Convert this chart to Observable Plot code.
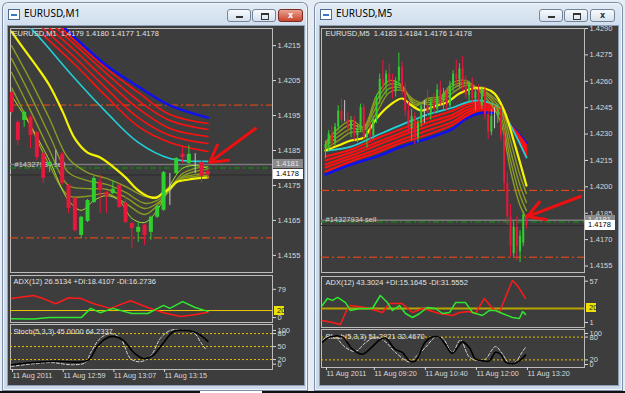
<!DOCTYPE html>
<html><head><meta charset="utf-8">
<script src="https://cdn.jsdelivr.net/npm/d3@7"></script>
<script src="https://cdn.jsdelivr.net/npm/@observablehq/plot@0.6"></script>
<style>
html,body{margin:0;padding:0;}
body{width:625px;height:393px;position:relative;overflow:hidden;background:#e6ecf3;font-family:"Liberation Sans",Arial,sans-serif;}
.win{position:absolute;top:2px;height:389px;border-radius:6px 6px 0 0;background:linear-gradient(#e3ecf6 0px,#d2dfee 22px,#cbd9ea 100%);box-shadow:inset 0 0 0 1px #7d8fa6,inset 0 0 0 2px #f1f6fb;}
.client{position:absolute;left:6px;top:24px;height:359px;background:#3d3d3d;box-shadow:0 0 0 1px #8d9fb5;}
.title{position:absolute;left:22px;top:4px;font:10px "Noto Sans",sans-serif;color:#000;}
.icon{position:absolute;left:6px;top:7px;width:10px;height:9px;border:1px solid #4f6c93;background:#fff;}
.icon:after{content:"";position:absolute;left:2px;top:4px;width:6px;height:2px;background:#3a78c8;}
.btn{position:absolute;top:7px;height:13px;border-radius:3px;border:1px solid #73849a;background:linear-gradient(#f7fafd,#d6e1ee);box-sizing:border-box;text-align:center;font:bold 8px "DejaVu Sans",sans-serif;line-height:11px;color:#333;}
.btn.close.active{background:linear-gradient(#e9a393,#c8452d);border-color:#7a2a1e;color:#fff;}
.minbar{position:absolute;left:8px;top:6px;width:7px;height:2px;background:#333;}
.restbox{position:absolute;left:8px;top:3px;width:6px;height:4px;border:1px solid #333;border-top-width:2px;}
.pbox{position:absolute;font:7.5px "Liberation Sans",Arial,sans-serif;padding-left:3px;box-sizing:border-box;white-space:nowrap;}
svg{overflow:visible;}
</style>
</head><body>
<div class="win" style="left:2px;width:306px">
  <div class="icon"></div><div class="title">EURUSD,M1</div>
  <div class="btn" style="left:225px;width:24px"><div class="minbar"></div></div>
  <div class="btn" style="left:250px;width:24px"><div class="restbox"></div></div>
  <div class="btn close active" style="left:276px;width:25px">x</div>
  <div class="client" style="width:296px"></div>
</div>
<div class="win" style="left:314px;width:309px">
  <div class="icon"></div><div class="title">EURUSD,M5</div>
  <div class="btn" style="left:225px;width:24px"><div class="minbar"></div></div>
  <div class="btn" style="left:250px;width:24px"><div class="restbox"></div></div>
  <div class="btn close" style="left:276px;width:25px">x</div>
  <div class="client" style="width:298px"></div>
</div>
<div style="position:absolute;left:0;top:391px;width:625px;height:2px;background:#111"></div>
<div style="position:absolute;left:200px;top:391px;width:62px;height:2px;background:#fff"></div>
<script>
// ---------------- DATA ----------------
const m1Header = "EURUSD,M1  1.4179 1.4180 1.4177 1.4178";
const m5Header = "EURUSD,M5  1.4183 1.4184 1.4176 1.4178";
const m1AdxText = "ADX(12) 26.5134 +DI:18.4107 -DI:16.2736";
const m5AdxText = "ADX(12) 43.3024 +DI:15.1645 -DI:31.5552";
const m1StochText = "Stoch(5,3,3) 45.0000 64.2337";
const m5StochText = "Stoch(5,3,3) 51.2821 32.4670";
const orderText = "#14327934 sell";

// candles [open, high, low, close]
const m1Candles = [
 [1.42016,1.42030,1.41950,1.41959],[1.41930,1.41936,1.41864,1.41879],[1.41936,1.41962,1.41916,1.41959],
 [1.41944,1.41950,1.41856,1.41893],[1.41901,1.41905,1.41820,1.41830],[1.41841,1.41845,1.41756,1.41770],
 [1.41807,1.41820,1.41787,1.41816],[1.41813,1.41850,1.41807,1.41813],[1.41839,1.41845,1.41750,1.41756],
 [1.41750,1.41753,1.41670,1.41684],[1.41713,1.41716,1.41616,1.41621],[1.41607,1.41662,1.41599,1.41659],
 [1.41647,1.41710,1.41644,1.41707],[1.41701,1.41776,1.41699,1.41770],[1.41759,1.41779,1.41670,1.41736],
 [1.41730,1.41733,1.41670,1.41719],[1.41727,1.41764,1.41724,1.41739],[1.41750,1.41753,1.41684,1.41687],
 [1.41699,1.41721,1.41641,1.41644],[1.41641,1.41644,1.41570,1.41627],[1.41616,1.41644,1.41587,1.41630],
 [1.41636,1.41639,1.41579,1.41607],[1.41616,1.41662,1.41593,1.41659],[1.41659,1.41693,1.41656,1.41690],
 [1.41679,1.41790,1.41676,1.41787],[1.41779,1.41784,1.41693,1.41779],[1.41784,1.41830,1.41781,1.41827],
 [1.41839,1.41864,1.41813,1.41830],[1.41813,1.41864,1.41810,1.41839],[1.41830,1.41841,1.41784,1.41830],
 [1.41816,1.41822,1.41756,1.41776],[1.4179,1.4180,1.4177,1.4178]
];
const m5Candles = [
 [1.4222,1.4226,1.4216,1.4224],[1.4224,1.4232,1.4220,1.4230],[1.4230,1.4234,1.4222,1.4225],[1.4225,1.4236,1.4223,1.4234],
 [1.4234,1.4246,1.4232,1.4243],[1.4243,1.4250,1.4236,1.4238],[1.4238,1.4249,1.4237,1.4238],[1.4238,1.4242,1.4230,1.4233],
 [1.4233,1.4240,1.4228,1.4237],[1.4237,1.4240,1.4226,1.4229],[1.4229,1.4235,1.4225,1.4233],[1.4233,1.4247,1.4231,1.4245],
 [1.4245,1.4247,1.4226,1.4228],[1.4228,1.4234,1.4222,1.4231],[1.4231,1.4236,1.4226,1.4229],[1.4229,1.4240,1.4227,1.4238],
 [1.4238,1.4252,1.4236,1.4250],[1.4250,1.4264,1.4247,1.4261],[1.4261,1.4272,1.4255,1.4258],[1.4258,1.4266,1.4252,1.4264],
 [1.4264,1.4270,1.4256,1.4259],[1.4259,1.4264,1.4250,1.4254],[1.4254,1.4262,1.4251,1.4260],[1.4260,1.4276,1.4257,1.4268],
 [1.4268,1.4271,1.4252,1.4255],[1.4255,1.4259,1.4240,1.4243],[1.4243,1.4248,1.4230,1.4233],[1.4233,1.4244,1.4226,1.4240],
 [1.4240,1.4242,1.4224,1.4228],[1.4228,1.4238,1.4225,1.4236],[1.4236,1.4248,1.4234,1.4246],[1.4246,1.4249,1.4236,1.4246],
 [1.4246,1.4255,1.4240,1.4242],[1.4242,1.4250,1.4238,1.4248],[1.4248,1.4253,1.4241,1.4244],[1.4244,1.4258,1.4242,1.4255],
 [1.4255,1.4260,1.4246,1.4249],[1.4249,1.4256,1.4244,1.4253],[1.4253,1.4255,1.4243,1.4246],[1.4246,1.4260,1.4245,1.4257],
 [1.4257,1.4266,1.4254,1.4264],[1.4264,1.4272,1.4258,1.4261],[1.4261,1.4270,1.4256,1.4267],[1.4267,1.4274,1.4254,1.4257],
 [1.4257,1.4263,1.4250,1.4252],[1.4252,1.4260,1.4248,1.4258],[1.4258,1.4262,1.4247,1.4250],[1.4250,1.4256,1.4243,1.4254],
 [1.4254,1.4258,1.4244,1.4246],[1.4246,1.4257,1.4244,1.4255],[1.4255,1.4257,1.4238,1.4241],[1.4241,1.4246,1.4227,1.4231],
 [1.4231,1.4244,1.4229,1.4240],[1.4240,1.4245,1.4233,1.4240],[1.4240,1.4247,1.4236,1.4244],[1.4244,1.4246,1.4226,1.4229],
 [1.4229,1.4232,1.4198,1.4202],[1.4202,1.4208,1.4178,1.4183],[1.4183,1.4190,1.4160,1.4166],[1.4162,1.4180,1.4160,1.4177],
 [1.4177,1.4183,1.4158,1.4166],[1.4163,1.4175,1.4157,1.4172],[1.4168,1.4186,1.4166,1.4184],[1.4183,1.4184,1.4176,1.4178]
];

// axis ticks
const m1PriceTicks = [1.4155,1.4165,1.4175,1.4185,1.4195,1.4205,1.4215];
const m5PriceTicks = [1.4155,1.4170,1.4185,1.4200,1.4215,1.4230,1.4245,1.4260,1.4275,1.4290];
const m1TimeTicks = [0,8,16,24];
const m1TimeLabels = ["11 Aug 2011","11 Aug 12:59","11 Aug 13:07","11 Aug 13:15"];
const m5TimeTicks = [0,15,31,47,63];
const m5TimeLabels = ["11 Aug 2011","11 Aug 09:20","11 Aug 10:40","11 Aug 12:00","11 Aug 13:20"];
const m1AdxTop = [79], m1AdxBottom = [0];
const m5AdxTop = [57], m5AdxBottom = [1];
const m1StochMid = [20,50,80], m5StochMid = [20,80];
const stochTop = [100], stochBottom = [0];
const adxLevel = 20;

// order levels
const stopLevels = [1.4198, 1.4160];
const orderLevel = 1.4181;
const entryLevel = 1.4180;
const bidLevel = 1.4178;

// M1 moving averages
const m1BlueIdx = [8,10,15,20,25,31];
const m1Blue = [1.42207,1.42173,1.42093,1.42033,1.41979,1.41944];
const m1RedIdx = [5,10,15,20,25,31];
const m1Red1 = [1.42181,1.42096,1.42004,1.41919,1.41873,1.41847];
const m1Red2 = [1.42199,1.42116,1.42027,1.41944,1.41893,1.41870];
const m1Red3 = [1.42216,1.42136,1.42050,1.41970,1.41913,1.41890];
const m1Red4 = [1.42233,1.42153,1.42070,1.41993,1.41936,1.41910];
const m1Red5 = [1.42250,1.42164,1.42084,1.42016,1.41953,1.41927];
const m1CyanIdx = [2,5,10,15,20,25,31];
const m1Cyan = [1.42221,1.42161,1.42056,1.41959,1.41873,1.41827,1.41819];
const m1YellowIdx = [0,2,4,6,8,10,12,14,16,18,20,22,23,24,25,26,28,31];
const m1Yellow = [1.42190,1.42139,1.42090,1.42036,1.41964,1.41884,1.41844,1.41830,1.41804,1.41773,1.41736,1.41716,1.41716,1.41730,1.41741,1.41759,1.41767,1.41773];
const m1OliveIdx = [0,3,6,9,12,15,18,21,23,25,27,29,31];
const m1Olive1 = [1.42150,1.42050,1.41941,1.41827,1.41787,1.41770,1.41747,1.41719,1.41719,1.41747,1.41770,1.41776,1.41779];
const m1Olive2 = [1.42113,1.42007,1.41893,1.41787,1.41764,1.41753,1.41730,1.41699,1.41707,1.41741,1.41773,1.41781,1.41787];
const m1Olive3 = [1.42073,1.41964,1.41850,1.41750,1.41741,1.41739,1.41716,1.41684,1.41699,1.41736,1.41776,1.41790,1.41796];
const m1Olive4 = [1.42030,1.41921,1.41807,1.41721,1.41719,1.41727,1.41699,1.41667,1.41693,1.41741,1.41784,1.41799,1.41804];
const m1LimeIdx = [0,3,6,9,11,13,15,17,19,21,23,25,27,29,31];
const m1Lime = [1.42007,1.41921,1.41821,1.41707,1.41679,1.41707,1.41721,1.41707,1.41656,1.41644,1.41679,1.41750,1.41799,1.41807,1.41799];

// M5 moving averages
const m5SlowIdx = [0,8,16,24,32,40,44,48,52,55,57,60,63];
const m5Blue = [1.42070,1.42127,1.42172,1.42229,1.42275,1.42331,1.42388,1.42417,1.42422,1.42411,1.42366,1.42314,1.42246];
const m5Cyan = [1.42205,1.42229,1.42292,1.42354,1.42411,1.42451,1.42479,1.42491,1.42474,1.42445,1.42383,1.42280,1.42167];
const m5Red1 = [1.42172,1.42212,1.42275,1.42331,1.42388,1.42434,1.42468,1.42479,1.42468,1.42440,1.42377,1.42286,1.42178];
const m5Red2 = [1.42150,1.42195,1.42252,1.42309,1.42366,1.42411,1.42451,1.42468,1.42457,1.42434,1.42377,1.42292,1.42189];
const m5Red3 = [1.42127,1.42178,1.42235,1.42292,1.42343,1.42394,1.42434,1.42457,1.42451,1.42428,1.42371,1.42297,1.42206];
const m5Red4 = [1.42110,1.42161,1.42212,1.42269,1.42320,1.42371,1.42417,1.42445,1.42440,1.42422,1.42371,1.42303,1.42218];
const m5Red5 = [1.42087,1.42144,1.42195,1.42252,1.42297,1.42354,1.42400,1.42434,1.42434,1.42417,1.42366,1.42309,1.42235];
const m5YellowIdx = [0,4,8,12,14,16,20,24,27,30,34,38,42,46,50,53,56,59,63];
const m5Yellow = [1.42206,1.42235,1.42263,1.42280,1.42331,1.42388,1.42462,1.42502,1.42462,1.42434,1.42457,1.42479,1.42530,1.42559,1.42559,1.42530,1.42434,1.42263,1.42007];
const m5OliveIdx = [0,4,8,12,16,20,24,28,32,36,40,44,48,52,55,58,61,63];
const m5Olive1 = [1.42218,1.42263,1.42309,1.42320,1.42422,1.42536,1.42548,1.42491,1.42468,1.42479,1.42536,1.42576,1.42559,1.42519,1.42462,1.42263,1.42064,1.41962];
const m5Olive2 = [1.42229,1.42286,1.42331,1.42331,1.42457,1.42559,1.42559,1.42479,1.42479,1.42491,1.42559,1.42587,1.42559,1.42508,1.42434,1.42206,1.42007,1.41911];
const m5Olive3 = [1.42241,1.42309,1.42354,1.42337,1.42491,1.42582,1.42570,1.42468,1.42491,1.42502,1.42576,1.42593,1.42553,1.42491,1.42400,1.42150,1.41951,1.41865];
const m5Olive4 = [1.42252,1.42331,1.42377,1.42343,1.42519,1.42604,1.42576,1.42457,1.42502,1.42513,1.42593,1.42604,1.42548,1.42468,1.42366,1.42093,1.41894,1.41820];

// ADX [barIndex, value]
const m1MinusDI = [[0,48],[1.4,51],[3.5,55],[5,48],[7,36],[9,50],[11,48],[13,36],[15.6,25],[18.8,43],[21.5,27],[24,15],[26.7,6],[28.8,10],[31,16]];
const m1PlusDI = [[0,1],[3.5,0],[6,3.5],[11,3.5],[12.5,25],[14,15],[16,25],[19,13],[21.5,13],[24,32],[25,25],[27,41],[29,27],[31,18]];
const m5MinusDI = [[-1,3.7],[2.2,1],[4.7,-1.7],[6.3,14.6],[7.8,24],[12.5,21.4],[17.9,14.6],[20,26.8],[24,26.8],[27.3,14.6],[30.4,20],[35.7,13.2],[39.8,10.5],[42,14.6],[45,16],[47,13.2],[49.8,33.6],[52.4,20],[54.5,14.6],[56.4,35],[58.6,58],[60.2,51],[62.7,33.6]];
const m5PlusDI = [[-1,24],[0.6,33.6],[2.2,31],[3.8,35],[6.3,28],[7.8,17.3],[10.7,20],[14.7,20],[17.2,37.6],[19.4,28],[21,17.3],[23.2,24],[25.1,13.2],[27.3,7.8],[29.5,13.2],[32,21.4],[34.5,20],[36.7,13.2],[38.9,14.6],[40.8,28],[43.9,28],[46.1,14.6],[49.2,10.5],[51.4,17.3],[53.3,17.3],[55.5,13.2],[58.6,7.8],[60.8,6.4],[61.8,16],[62.7,12]];
// Stochastic [barIndex, value]
const m1StochMain = [[0,8],[3.5,13],[7,16],[12,18],[13.6,52],[15.2,71],[16.4,73],[17.7,64],[19.3,36],[20.9,22],[22.3,29],[24,59],[25.6,85],[27.8,87],[29.4,80],[31,62]];
const m1StochSignal = [[0,4],[6,13],[9.6,8],[11.7,13],[12.5,36],[14,69],[15.6,80],[17.2,69],[18.8,22],[20.4,15],[22,29],[23.5,69],[25,87],[26.7,89],[28.8,82],[29.9,59],[30.6,45]];
const m5StochMain = [[-0.9,67.5],[1.3,80],[5.3,80],[8.5,47.5],[11.6,35],[14.7,55],[16.9,72.5],[18.8,77.5],[21.9,47.5],[24.1,40],[26.3,17.5],[28.2,17.5],[31.3,67.5],[33.5,80],[35.7,80],[37.6,60],[39.8,37.5],[42.9,67.5],[45.1,52.5],[47,22.5],[49.2,17.5],[51.4,17.5],[53.3,40],[54.9,35],[56.4,15],[58.6,10],[60.8,17.5],[62.7,32.5]];
const m5StochSignal = [[-0.9,72.5],[2.2,85],[6.3,52.5],[9.4,42.5],[12.5,65],[15.7,80],[18.8,67.5],[21.9,40],[26.3,15],[28.2,27.5],[31.3,52.5],[34.5,80],[36.7,77.5],[39.8,40],[42.3,72.5],[45.1,27.5],[48.3,17.5],[50.2,22.5],[53.3,55],[55.5,35],[57.7,10],[59.6,15],[61.8,42.5],[62.7,52.5]];

// annotation arrows [x1, y1, x2, y2]
const m1Arrow = [[38.5,1.41913,31.3,1.41816]];
const m5Arrow = [[79.9,1.41945,63.3,1.41831]];

// ---------------- DRAWING ----------------
const GREEN="#2fcf2f", RED="#e8173c", DOJI="#c8c8c8", TXT="#e2e2e2", FRAME="#bcbcbc";
const FONT = '"Liberation Sans", Arial, sans-serif';

function pane({x0,y0,w,h,xDomain,yDomain,marks,mb=0,xAxis=false}) {
  const chart = Plot.plot({
    width: w + 34, height: h + mb,
    marginLeft: 0, marginTop: 0, marginRight: 34, marginBottom: mb,
    x: xAxis ? {domain: xDomain} : {domain: xDomain, axis: null},
    y: {domain: yDomain},
    style: {background: "transparent", color: "#d8d8d8", fontSize: "7.5px", fontFamily: FONT, overflow: "visible"},
    marks
  });
  chart.style.position = "absolute";
  chart.style.left = x0 + "px";
  chart.style.top = y0 + "px";
  chart.style.maxWidth = "none";
  document.body.appendChild(chart);
  return chart;
}
const pts = (idx, vals) => d3.zip(idx, vals);
const maLine = (idx, vals, stroke, w) => Plot.line(pts(idx, vals), {x: d=>d[0], y: d=>d[1], stroke, strokeWidth: w, curve: "catmull-rom", clip: true});
const candleColor = d => d[3] > d[0] ? GREEN : d[3] < d[0] ? RED : DOJI;
function candles(data, bodyW) {
  return [
    Plot.ruleX(data, {x: (d,i)=>i, y1: d=>d[2], y2: d=>d[1], stroke: candleColor, strokeWidth: 1, clip: true}),
    Plot.ruleX(data, {x: (d,i)=>i, y1: d=>d[0], y2: d=>d[3], stroke: candleColor, strokeWidth: bodyW, clip: true})
  ];
}
function levels() {
  return [
    Plot.ruleY(stopLevels, {stroke: "#ff4a0a", strokeWidth: 1, strokeDasharray: "8,3,2,3"}),
    Plot.ruleY([orderLevel], {stroke: "#7a7a7a", strokeWidth: 1.5}),
    Plot.ruleY([entryLevel], {stroke: "#0f9a0f", strokeWidth: 1, strokeDasharray: "6,3,2,3"}),
    Plot.ruleY([bidLevel], {stroke: "#2c2c2c", strokeWidth: 1})
  ];
}
// HTML label box positioned through the chart's own y scale
function box(chart, top, left, width, value, text, bg, fg, h) {
  const y = top + chart.scale("y").apply(value);
  const d = document.createElement("div");
  d.className = "pbox";
  d.textContent = text;
  Object.assign(d.style, {left: left+"px", top: (y - h/2)+"px", width: width+"px", height: h+"px", lineHeight: h+"px", background: bg, color: fg});
  document.body.appendChild(d);
}
const axisR = (ticks, dy=0, fmt) => Plot.axisY({anchor: "right", ticks, tickSize: 3, tickPadding: 2, fontSize: 7.5, dy, ...(fmt ? {tickFormat: fmt} : {})});
const arrowMark = data => Plot.arrow(data, {x1: d=>d[0], y1: d=>d[1], x2: d=>d[2], y2: d=>d[3], stroke: "#ee1010", strokeWidth: 3, headLength: 11});
const fmt4 = d => d.toFixed(4);

// ===== M1 window =====
const m1X = [-0.16, 41.2];
const m1Main = pane({x0:10, y0:28, w:262, h:244, xDomain:m1X, yDomain:[1.41501,1.42199], marks:[
  Plot.frame({stroke: FRAME}),
  ...levels(),
  Plot.text([orderText], {frameAnchor: "left", y: () => orderLevel, dx: 4, fill: "#d0d0d0", fontSize: 7.5}),
  maLine(m1BlueIdx, m1Blue, "#1010f0", 2.5),
  maLine(m1RedIdx, m1Red5, "#ff1010", 1.6),
  maLine(m1RedIdx, m1Red4, "#ff1010", 1.6),
  maLine(m1RedIdx, m1Red3, "#ff1010", 1.6),
  maLine(m1RedIdx, m1Red2, "#ff1010", 1.6),
  maLine(m1RedIdx, m1Red1, "#ff1010", 1.6),
  maLine(m1CyanIdx, m1Cyan, "#22d0d8", 1.6),
  maLine(m1OliveIdx, m1Olive1, "#8a9a22", 1.4),
  maLine(m1OliveIdx, m1Olive2, "#8a9a22", 1.4),
  maLine(m1OliveIdx, m1Olive3, "#8a9a22", 1.4),
  maLine(m1OliveIdx, m1Olive4, "#8a9a22", 1.4),
  maLine(m1LimeIdx, m1Lime, "#a8e030", 1),
  maLine(m1YellowIdx, m1Yellow, "#f4f400", 2.2),
  ...candles(m1Candles, 4),
  Plot.text([m1Header], {frameAnchor: "top-left", dx: 2, dy: 2, fill: TXT, fontSize: 7.5}),
  arrowMark(m1Arrow),
  axisR(m1PriceTicks, 0, fmt4)
]});
box(m1Main, 28, 273, 30, orderLevel, "1.4181", "#8a8a8a", "#e8e8e8", 9);
box(m1Main, 28, 273, 30, bidLevel, "1.4178", "#ffffff", "#000000", 10);

const m1Adx = pane({x0:10, y0:275, w:262, h:47, xDomain:m1X, yDomain:[-8,102], marks:[
  Plot.frame({stroke: FRAME}),
  Plot.ruleY([adxLevel], {stroke: "#e8c800", strokeWidth: 1}),
  Plot.text([m1AdxText], {frameAnchor: "top-left", dx: 3, dy: 3, fill: TXT, fontSize: 7.5}),
  Plot.line(m1MinusDI, {x: d=>d[0], y: d=>d[1], stroke: "#ff1a1a", strokeWidth: 1.5, clip: true}),
  Plot.line(m1PlusDI, {x: d=>d[0], y: d=>d[1], stroke: "#2ee82e", strokeWidth: 1.5, clip: true}),
  axisR(m1AdxTop, 4),
  axisR(m1AdxBottom, -1.5)
]});
box(m1Adx, 275, 274, 10, adxLevel, "20", "#f0e000", "#222", 9);

pane({x0:10, y0:324, w:262, h:45, mb:14, xAxis:true, xDomain:m1X, yDomain:[-3,101], marks:[
  Plot.frame({stroke: FRAME}),
  Plot.ruleY(m1StochMid, {stroke: "#e8c000", strokeWidth: 1, strokeDasharray: "2,2"}),
  Plot.text([m1StochText], {frameAnchor: "top-left", dx: 3, dy: 4, fill: TXT, fontSize: 7.5}),
  Plot.line(m1StochSignal, {x: d=>d[0], y: d=>d[1], stroke: "#d8d8d8", strokeWidth: 1, strokeDasharray: "3,2", curve: "catmull-rom", clip: true}),
  Plot.line(m1StochMain, {x: d=>d[0], y: d=>d[1], stroke: "#000", strokeWidth: 1.6, curve: "catmull-rom", clip: true}),
  axisR(m1StochMid),
  axisR(stochTop, 5.5),
  axisR(stochBottom, -4),
  Plot.axisX({anchor: "bottom", ticks: m1TimeTicks, tickFormat: d => m1TimeLabels[m1TimeTicks.indexOf(d)], tickSize: 3, tickPadding: 0, textAnchor: "start", dx: 1, fontSize: 7.3})
]});

// ===== M5 window =====
const m5X = [-1.25, 81.2];
const m5Main = pane({x0:321, y0:28, w:263, h:244, xDomain:m5X, yDomain:[1.41513,1.4290], marks:[
  Plot.frame({stroke: FRAME}),
  ...levels(),
  Plot.text([orderText], {frameAnchor: "left", y: () => orderLevel, dx: 4, dy: -1, fill: "#d0d0d0", fontSize: 7.5}),
  maLine(m5SlowIdx, m5Blue, "#1010f0", 2.5),
  maLine(m5SlowIdx, m5Red5, "#ff1010", 2),
  maLine(m5SlowIdx, m5Red4, "#ff1010", 2),
  maLine(m5SlowIdx, m5Red3, "#ff1010", 2),
  maLine(m5SlowIdx, m5Red2, "#ff1010", 2),
  maLine(m5SlowIdx, m5Red1, "#ff1010", 2),
  maLine(m5SlowIdx, m5Cyan, "#22d0d8", 1.8),
  maLine(m5OliveIdx, m5Olive1, "#8a9a22", 1.4),
  maLine(m5OliveIdx, m5Olive2, "#8a9a22", 1.4),
  maLine(m5OliveIdx, m5Olive3, "#8a9a22", 1.4),
  maLine(m5OliveIdx, m5Olive4, "#8a9a22", 1.4),
  maLine(m5YellowIdx, m5Yellow, "#f4f400", 2.2),
  ...candles(m5Candles, 2),
  Plot.text([m5Header], {frameAnchor: "top-left", dx: 4, dy: 2, fill: TXT, fontSize: 7.5}),
  arrowMark(m5Arrow),
  axisR(m5PriceTicks, 0, fmt4)
]});
box(m5Main, 28, 585, 30, orderLevel, "1.4181", "#8a8a8a", "#e8e8e8", 9);
box(m5Main, 28, 585, 30, bidLevel, "1.4178", "#ffffff", "#000000", 10);

const m5Adx = pane({x0:321, y0:276, w:263, h:51, xDomain:m5X, yDomain:[-5.8,63.4], marks:[
  Plot.frame({stroke: FRAME}),
  Plot.ruleY([adxLevel], {stroke: "#b8a400", strokeWidth: 2}),
  Plot.text([m5AdxText], {frameAnchor: "top-left", dx: 4, dy: 3, fill: TXT, fontSize: 7.5}),
  Plot.line(m5MinusDI, {x: d=>d[0], y: d=>d[1], stroke: "#ff1a1a", strokeWidth: 1.5, clip: true}),
  Plot.line(m5PlusDI, {x: d=>d[0], y: d=>d[1], stroke: "#2ee82e", strokeWidth: 1.5, clip: true}),
  axisR(m5AdxTop),
  axisR(m5AdxBottom)
]});
box(m5Adx, 276, 586, 10, adxLevel, "20", "#f0e000", "#222", 9);

pane({x0:321, y0:329, w:263, h:38, mb:14, xAxis:true, xDomain:m5X, yDomain:[0,100], marks:[
  Plot.frame({stroke: FRAME}),
  Plot.ruleY(m5StochMid, {stroke: "#e8c000", strokeWidth: 1, strokeDasharray: "2,2"}),
  Plot.text([m5StochText], {frameAnchor: "top-left", dx: 4, dy: 4, fill: TXT, fontSize: 7.5}),
  Plot.line(m5StochSignal, {x: d=>d[0], y: d=>d[1], stroke: "#d8d8d8", strokeWidth: 1, strokeDasharray: "3,2", curve: "catmull-rom", clip: true}),
  Plot.line(m5StochMain, {x: d=>d[0], y: d=>d[1], stroke: "#000", strokeWidth: 1.6, curve: "catmull-rom", clip: true}),
  axisR(m5StochMid),
  axisR(stochTop, 4),
  axisR(stochBottom, -3),
  Plot.axisX({anchor: "bottom", ticks: m5TimeTicks, tickFormat: d => m5TimeLabels[m5TimeTicks.indexOf(d)], tickSize: 3, tickPadding: 0, textAnchor: "start", dx: 1, fontSize: 7.3})
]});
</script>
</body></html>
